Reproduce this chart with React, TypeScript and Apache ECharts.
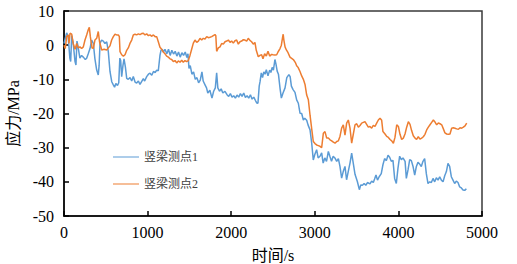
import React, { useEffect, useRef } from "react";
import * as echarts from "echarts";

const seriesNames = ["竖梁测点1", "竖梁测点2"];
const xTicks = [0, 1000, 2000, 3000, 4000, 5000];
const yTicks = [-50, -40, -30, -20, -10, 0, 10];

const point1: [number, number][] = [
  [0, 0.5], [15, 2], [32, 3.6], [50, 2.5], [70, -3.8], [80, -4.8], [92, 2.8], [110, 0.5], [132, -4.8], [143, -5.8],
  [155, 1.2], [165, 0], [190, -3.8], [210, -3], [231, -3.5], [255, -4.2], [271, -3.8], [290, -2.5], [311, -1], [331, 1.5],
  [351, 0.5], [370, -4], [391, -7.3], [410, -8.7], [420, -6], [431, 0.6], [450, 1.5], [470, 1.2], [490, 0.5], [511, 1],
  [530, -1.9], [550, -7.7], [571, -10.7], [590, -11.6], [605, -12.3], [620, -11.2], [640, -11.8], [655, -11], [668, -3.8], [678, -4.5],
  [690, -9.2], [705, -6], [718, -4], [735, -6.5], [750, -9.7], [769, -10], [790, -9.5], [810, -10.5], [829, -9.2], [850, -10.8],
  [869, -11.1], [890, -10.5], [909, -11.5], [930, -10.6], [949, -9.8], [965, -10.5], [989, -9.2], [1010, -8.5], [1029, -8.2], [1050, -8.8],
  [1070, -7.7], [1090, -8], [1109, -7.3], [1128, -7.5], [1148, -3], [1160, -1.5], [1175, -1.2], [1188, -2], [1208, -1.2], [1230, -2.5],
  [1250, -1.2], [1270, -3], [1290, -1.5], [1310, -2.6], [1330, -1.8], [1350, -3.2], [1370, -2], [1390, -3.5], [1410, -2.2], [1430, -3],
  [1450, -2], [1470, -3.6], [1483, -2.5], [1495, -6.8], [1510, -6], [1530, -8.5], [1550, -7.8], [1570, -10], [1590, -9.5], [1610, -11],
  [1630, -10.2], [1650, -7.8], [1665, -10.5], [1687, -11.6], [1705, -12.5], [1720, -14], [1745, -13.2], [1770, -15.5], [1790, -13.5], [1810, -12.5],
  [1826, -8.1], [1840, -12.5], [1860, -13.5], [1880, -12.8], [1900, -14], [1925, -13.5], [1950, -14.5], [1970, -15], [1990, -14.2], [2010, -15.2],
  [2030, -14.8], [2050, -15.5], [2070, -14.6], [2090, -15.2], [2110, -14.2], [2130, -15], [2150, -14], [2170, -15.3], [2190, -14.8], [2210, -15.5],
  [2230, -14.5], [2250, -15.8], [2270, -15.2], [2290, -16.2], [2305, -16.9], [2320, -17], [2335, -12], [2345, -10.7], [2360, -8.1], [2375, -9.5],
  [2390, -7.8], [2405, -8.5], [2420, -7.2], [2440, -9], [2460, -7.3], [2475, -8], [2490, -6.5], [2505, -7.3], [2523, -4.2], [2535, -5.5],
  [2550, -7.6], [2565, -8.5], [2585, -12.8], [2600, -15.5], [2620, -14], [2644, -12.5], [2665, -9.5], [2690, -8.6], [2705, -9.2], [2720, -12],
  [2740, -13], [2763, -13.8], [2783, -16], [2803, -17], [2823, -19.9], [2843, -20], [2863, -21.9], [2880, -21.4], [2903, -22], [2920, -23.4],
  [2943, -24.8], [2963, -28.7], [2982, -33.6], [3000, -32], [3022, -30.6], [3040, -33], [3062, -32.5], [3082, -31.5], [3100, -34.5], [3120, -33],
  [3140, -34], [3162, -31.1], [3180, -32.5], [3200, -34], [3220, -32.5], [3240, -33], [3262, -34], [3282, -33.2], [3301, -35.5], [3321, -38.9],
  [3340, -37], [3361, -35.5], [3380, -39.4], [3400, -37], [3421, -34.5], [3441, -31.6], [3460, -34.5], [3481, -37.8], [3509, -39.9], [3533, -42.3],
  [3550, -40.9], [3570, -41], [3590, -40.5], [3610, -41], [3630, -40.2], [3660, -40.6], [3680, -39.8], [3700, -40.2], [3715, -39.2], [3732, -38],
  [3750, -39.5], [3770, -38.5], [3795, -37.6], [3815, -35], [3835, -33.2], [3856, -33.8], [3876, -32.2], [3895, -32.8], [3915, -34], [3935, -33.7],
  [3955, -39], [3975, -40.5], [3995, -36], [4015, -32.5], [4035, -33.5], [4055, -33], [4080, -34], [4095, -39], [4115, -36.5], [4135, -33.5],
  [4155, -33.8], [4175, -35.5], [4195, -38], [4215, -35.5], [4234, -34.3], [4254, -34.8], [4274, -35.5], [4294, -34], [4314, -33.2], [4334, -37.6],
  [4354, -40.5], [4374, -40], [4394, -40.2], [4414, -39], [4434, -40], [4454, -38.8], [4474, -39.5], [4494, -38.5], [4514, -39.5], [4534, -40],
  [4554, -38.2], [4574, -37], [4593, -34.6], [4613, -35.5], [4633, -38.5], [4653, -39.5], [4673, -40.5], [4693, -39.8], [4713, -40.2], [4733, -41.5],
  [4753, -41.8], [4773, -42.4], [4793, -42.5], [4813, -42],
];

const point2: [number, number][] = [
  [0, 0], [15, -1], [32, 2.5], [52, 3], [60, 0.5], [72, 3.5], [92, 3.2], [110, 0.5], [132, -1.2], [152, 0.5],
  [171, -0.8], [191, -0.5], [211, -1], [231, -0.5], [251, 1.5], [271, 3], [290, 4.5], [303, 5.2], [315, 2.5], [335, -0.8],
  [351, -0.9], [370, 1.5], [391, 2], [410, 4], [425, 1], [451, -1.4], [480, -1.2], [511, -1.4], [530, -0.8], [550, -0.2],
  [570, 1.5], [590, 2.5], [610, 3.2], [630, 3], [650, 3], [662, 2.5], [670, -1.9], [690, -2.8], [710, -3.2], [730, -2.8],
  [750, -1.5], [769, -0.8], [789, 0.5], [810, 1.5], [829, 3], [849, 3.2], [869, 3], [890, 3.3], [909, 3.1], [929, 3.4],
  [949, 3.5], [969, 3], [989, 3.3], [1010, 2.8], [1029, 3], [1050, 2.6], [1069, 3], [1090, 2.5], [1109, 2.5], [1128, 1],
  [1148, -0.6], [1168, -1.2], [1188, -2], [1208, -2.5], [1228, -3.2], [1248, -3.5], [1268, -4], [1288, -4.2], [1308, -4.8], [1328, -4.5],
  [1348, -5.2], [1368, -4.6], [1388, -5], [1408, -4.4], [1427, -5], [1447, -4.5], [1467, -4.8], [1487, -4.5], [1507, -3], [1527, -1.2],
  [1547, 0.6], [1567, 1.5], [1587, 0.8], [1607, 1.2], [1627, 2], [1647, 1.5], [1666, 2], [1687, 1.8], [1707, 2.5], [1727, 2.2],
  [1746, 2.3], [1767, 2.5], [1786, 2.8], [1806, 3.1], [1816, 2.8], [1826, -1.8], [1846, -0.8], [1866, -0.5], [1886, 0.5], [1906, 0.3],
  [1926, 1], [1946, 1.2], [1966, 1.5], [1986, 0.8], [2005, 1.2], [2025, 0.6], [2045, 1.3], [2065, 1.5], [2085, 0.3], [2105, 1],
  [2125, 1.2], [2145, 1.6], [2165, 1.5], [2185, 1.2], [2204, 2], [2224, 1.4], [2244, 1], [2264, 0.3], [2284, 0.8], [2300, -1.5],
  [2324, -3.4], [2344, -3], [2364, -2.8], [2380, -4], [2400, -2.5], [2420, -3.2], [2440, -1.8], [2460, -3.2], [2484, -2.7], [2500, -2.8],
  [2523, -2.9], [2544, -2.8], [2560, -2], [2584, -1], [2600, 0], [2616, 2.5], [2622, 3.2], [2630, 1.5], [2644, -0.5], [2660, -1.4],
  [2680, -2.2], [2703, -3.5], [2743, -4.2], [2770, -5.2], [2783, -6], [2800, -6.5], [2823, -7.7], [2843, -9], [2863, -10], [2883, -11.5],
  [2903, -14.6], [2923, -16], [2943, -20.5], [2963, -24.5], [2982, -28.2], [3002, -28.8], [3022, -29.2], [3042, -29.4], [3062, -29.6], [3082, -30],
  [3102, -25.8], [3122, -25.3], [3142, -27.2], [3162, -27.2], [3182, -27.7], [3202, -28], [3222, -28.4], [3242, -28.7], [3262, -28.2], [3282, -28],
  [3301, -26.7], [3321, -24.3], [3341, -23.3], [3361, -26.3], [3381, -22.8], [3401, -21.9], [3421, -24.3], [3441, -28.7], [3461, -26], [3481, -23.3],
  [3501, -23], [3521, -24], [3541, -23.5], [3561, -22.8], [3580, -22.6], [3600, -22.4], [3620, -23.2], [3640, -24], [3660, -23.8], [3680, -24.3],
  [3700, -23.5], [3720, -23.8], [3740, -22.8], [3760, -21.9], [3780, -21.4], [3800, -22], [3815, -25.3], [3840, -26], [3860, -26.7], [3880, -27],
  [3900, -27.6], [3920, -28], [3940, -28.7], [3959, -27], [3980, -23.3], [4000, -23.8], [4019, -26.1], [4039, -27.6], [4059, -27.2], [4079, -26],
  [4099, -24], [4119, -22.4], [4139, -23.2], [4158, -25], [4178, -26.5], [4199, -27.2], [4218, -27.6], [4238, -26.8], [4258, -27.5], [4278, -27.2],
  [4298, -26.8], [4318, -26.1], [4338, -24.8], [4358, -24], [4378, -23.3], [4398, -22.6], [4418, -21.9], [4438, -22.5], [4458, -23.3], [4478, -22.8],
  [4498, -23], [4518, -23.3], [4538, -24.5], [4557, -25.7], [4577, -26], [4597, -26.1], [4617, -26], [4637, -24.3], [4657, -24.2], [4677, -24.3],
  [4697, -24.5], [4717, -24.6], [4737, -24.2], [4757, -24.3], [4777, -24], [4797, -23.6], [4817, -22.8],
];

const colors = ["#5B9BD5", "#ED7D31"];
const FONT = "Liberation Serif, Noto Sans CJK SC, serif";

export default function App() {
  const ref = useRef<HTMLDivElement>(null);
  useEffect(() => {
    document.body.style.margin = "0";
    if (!ref.current) return;
    const chart = echarts.init(ref.current, undefined, { renderer: "svg" });
    chart.setOption({
      animation: false,
      backgroundColor: "#fff",
      textStyle: { fontFamily: FONT },
      grid: {
        left: 64, right: 35, top: 11, bottom: 48,
        containLabel: false,
        outerBoundsMode: "none",
        show: true, borderColor: "#3a3a3a", borderWidth: 1.5, backgroundColor: "transparent",
      },
      legend: {
        orient: "vertical",
        left: 108,
        top: 146,
        itemWidth: 26,
        itemHeight: 10,
        itemGap: 15,
        icon: "path://M0,4.5 L26,4.5 L26,5.5 L0,5.5 Z",
        textStyle: { fontFamily: FONT, fontSize: 12, color: "#404040" },
        data: seriesNames,
      },
      xAxis: {
        type: "value",
        min: xTicks[0],
        max: xTicks[xTicks.length - 1],
        interval: 1000,
        name: "时间/s",
        nameLocation: "middle",
        nameGap: 31,
        nameTextStyle: { fontFamily: FONT, fontSize: 16, color: "#000" },
        axisLine: { onZero: false, lineStyle: { color: "#000", width: 1.5 } },
        axisTick: { inside: true, length: 5, lineStyle: { color: "#000", width: 1.5 } },
        axisLabel: { fontFamily: FONT, fontSize: 16, color: "#000", margin: 8, formatter: (v: number) => String(v) },
        splitLine: { show: false },
      },
      yAxis: {
        type: "value",
        min: yTicks[0],
        max: yTicks[yTicks.length - 1],
        interval: 10,
        name: "应力/MPa",
        nameLocation: "middle",
        nameGap: 34,
        nameRotate: 90,
        nameTextStyle: { fontFamily: FONT, fontSize: 16, color: "#000" },
        axisLine: { onZero: false, lineStyle: { color: "#000", width: 1.5 } },
        axisTick: { inside: true, length: 5, lineStyle: { color: "#000", width: 1.5 } },
        axisLabel: { fontFamily: FONT, fontSize: 16, color: "#000", margin: 10, formatter: (v: number) => String(v) },
        splitLine: { show: false },
      },
      series: [
        {
          name: seriesNames[0], type: "line", data: point1, symbol: "none",
          lineStyle: { color: colors[0], width: 1.5 }, itemStyle: { color: colors[0] },
        },
        {
          name: seriesNames[1], type: "line", data: point2, symbol: "none",
          lineStyle: { color: colors[1], width: 1.5 }, itemStyle: { color: colors[1] },
        },
      ],
    });
    return () => chart.dispose();
  }, []);
  return <div ref={ref} style={{ width: 517, height: 264 }} />;
}
